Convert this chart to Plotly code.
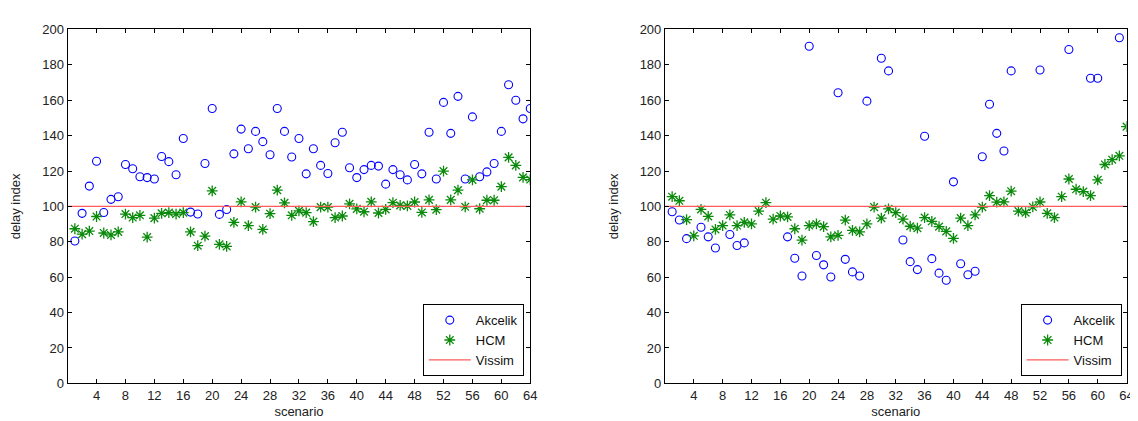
import plotly.graph_objects as go

scenarios = list(range(1, 65))
x_ticks = list(range(4, 65, 4))
y_ticks = list(range(0, 201, 20))
vissim_level = 100
vissim_x = [0, 64]

akcelik_left = [80.5, 96.1, 111.5, 125.5, 96.6, 104, 105.5, 123.7, 121.3, 116.8,
                116.3, 115.5, 128.2, 125.3, 117.9, 138.4, 96.8, 95.7, 124.3, 155.3,
                95.5, 98.3, 129.7, 143.7, 132.6, 142.4, 136.6, 129.2, 155.3, 142.4,
                127.9, 138.4, 118.4, 132.6, 123.2, 118.6, 136, 141.9, 121.9, 116.3,
                120.8, 123.2, 122.8, 112.6, 120.8, 117.9, 115, 123.7, 118.4, 141.9,
                115.5, 158.8, 141.3, 162.2, 115.5, 150.6, 116.8, 119.5, 124.3, 142.4,
                168.8, 160, 149.5, 155.3]
hcm_left = [87.4, 84.3, 86.1, 94.3, 85, 83.9, 85.6, 95.7, 93.7, 95,
            82.7, 93.4, 96.1, 96.5, 95.7, 96.5, 85.6, 77.8, 83.2, 108.8,
            78.6, 77.4, 91, 102.6, 89.2, 99.6, 87, 95.9, 109.2, 102,
            95, 97.5, 96.5, 91.4, 99.6, 99.6, 93.7, 94.6, 101.5, 98.6,
            97, 102.6, 96.3, 98.3, 102.1, 100.6, 100.3, 102.5, 96.6, 103.7,
            98.2, 120, 103.7, 109.2, 99.8, 115, 98.7, 103.5, 103.5, 111.2,
            127.7, 123.2, 116.4, 115.2]
akcelik_right = [97, 92.3, 81.8, None, 88.2, 82.8, 76.5, None, 84.1, 77.9,
                 79.4, None, None, None, None, None, 82.8, 70.7, 60.7, 190.5,
                 72.3, 67, 60.1, 164.2, 70.1, 63, 60.7, 159.5, None, 183.7,
                 176.6, None, 81, 68.8, 64.3, 139.7, 70.5, 62.3, 58.3, 113.9,
                 67.6, 61.4, 63.4, 128.1, 157.7, 141.3, 131.3, 176.6, None, None,
                 None, 177.1, None, None, None, 188.7, None, None, 172.4, 172.4,
                 None, None, 195.3, None]
hcm_right = [105.5, 103.2, 92.5, 83.4, 98.3, 94.4, 87, 89.2, 95.2, 89.2,
             91, 90.1, 97.4, 102.1, 92.8, 94.6, 94.1, 87.4, 81, 89.2,
             90.1, 88.6, 82.8, 83.7, 92.3, 86.5, 85.6, 90.1, 99.6, 93.4,
             98.6, 96.5, 92.8, 88.8, 87.7, 93.7, 91.6, 88.6, 85.9, 81.9,
             93.4, 89.2, 95.2, 99.6, 106.1, 102.4, 102.6, 108.6, 97.4, 96.5,
             99.7, 102.5, 96.1, 93.7, 105.5, 115.5, 109.7, 108.4, 106.1, 115,
             123.7, 126.4, 128.6, 145.1]

W, H = 1138, 421
FONT = "Liberation Sans, Arial, sans-serif"
BLUE = "#0000ff"
GREEN = "#0a8a0a"
RED = "#ff5a5a"

fig = go.Figure()

panels = [
    ("x", "y", "legend", akcelik_left, hcm_left),
    ("x2", "y2", "legend2", akcelik_right, hcm_right),
]
for xa, ya, lg, ak, hc in panels:
    fig.add_trace(go.Scatter(x=scenarios, y=ak, mode="markers", name="Akcelik",
                             xaxis=xa, yaxis=ya, legend=lg,
                             marker=dict(symbol="circle-open", size=8, color=BLUE,
                                         line=dict(width=1.1, color=BLUE))))
    fig.add_trace(go.Scatter(x=scenarios, y=hc, mode="markers", name="HCM",
                             xaxis=xa, yaxis=ya, legend=lg,
                             marker=dict(symbol="asterisk-open", size=9, color=GREEN,
                                         line=dict(width=1.3, color=GREEN))))
    fig.add_trace(go.Scatter(x=vissim_x, y=[vissim_level] * len(vissim_x), mode="lines",
                             name="Vissim", xaxis=xa, yaxis=ya, legend=lg,
                             line=dict(color=RED, width=1.3)))

top = 1 - 15 / H
bottom = 1 - 382 / H
dom_left = [60 / W, 525.5 / W]
dom_right = [661 / W, 1125.5 / W]

axis_common = dict(showline=True, linecolor="black", linewidth=1, mirror="ticks",
                   ticks="inside", ticklen=4, tickcolor="black", showgrid=False,
                   zeroline=False, tickfont=dict(family=FONT, size=13, color="#222"),
                   title_font=dict(family=FONT, size=13, color="#222"))

legend_common = dict(xanchor="right", yanchor="bottom",
                     bordercolor="black", borderwidth=1, bgcolor="white",
                     font=dict(family=FONT, size=13, color="#111"), itemwidth=42,
                     tracegroupgap=0)

fig.update_layout(
    width=W, height=H,
    margin=dict(l=0, r=0, t=0, b=0),
    paper_bgcolor="white", plot_bgcolor="white",
    font=dict(family=FONT, size=13, color="#222"),
    xaxis=dict(domain=dom_left, range=[0, 64], tickvals=x_ticks, anchor="y",
               title=dict(text="scenario", standoff=4), **axis_common),
    yaxis=dict(domain=[bottom, top], range=[0, 200], tickvals=y_ticks, anchor="x",
               title=dict(text="delay index", standoff=18), **axis_common),
    xaxis2=dict(domain=dom_right, range=[0, 64], tickvals=x_ticks, anchor="y2",
                title=dict(text="scenario", standoff=4), **axis_common),
    yaxis2=dict(domain=[bottom, top], range=[0, 200], tickvals=y_ticks, anchor="x2",
                title=dict(text="delay index", standoff=18), **axis_common),
    legend=dict(x=519 / W, y=1 - 374.5 / H, **legend_common),
    legend2=dict(x=1120.5 / W, y=1 - 374.5 / H, **legend_common),
)

fig.write_html("out.html")
